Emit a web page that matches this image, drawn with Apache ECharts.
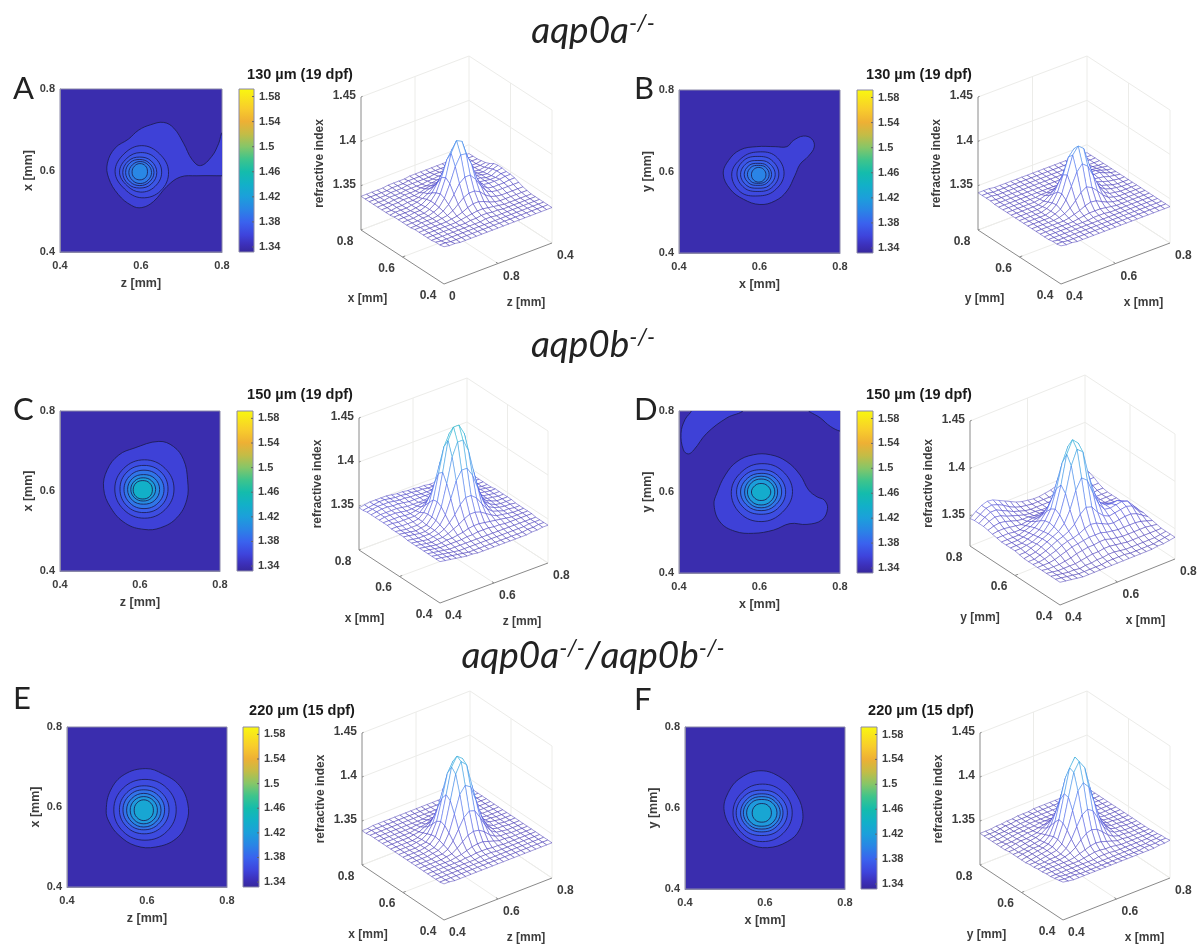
<!DOCTYPE html>
<html><head><meta charset="utf-8"><style>html,body{margin:0;background:#fff}#c{width:1201px;height:944px;filter:blur(.4px)}</style>
<script src="https://cdn.jsdelivr.net/npm/echarts@6/dist/echarts.min.js"></script></head>
<body><div id="c"></div><script>
// Surface heights: refractive index = 1.3 + value/1000. Rows y/x 0.40..0.80, columns 0.40..0.80, step 0.02 mm.
const surfaceA=[
[42,41,41,40,40,40,40,40,40,40,40,40,40,40,40,40,40,40,40,40,40],
[41,41,40,40,40,40,40,40,40,40,40,40,40,40,40,40,40,40,40,40,40],
[41,40,40,40,40,40,40,40,40,40,40,40,40,40,40,40,40,40,40,40,40],
[40,40,40,40,40,40,40,40,40,40,41,41,40,40,40,40,40,40,40,40,40],
[40,40,40,40,40,40,40,40,41,41,42,42,41,41,40,40,40,40,40,40,40],
[40,40,40,40,40,40,40,41,42,43,44,44,43,42,41,40,40,40,40,40,40],
[40,40,40,40,40,40,41,42,44,47,49,49,47,44,42,41,41,41,41,41,41],
[40,40,40,40,40,41,42,45,50,55,58,58,55,49,45,43,42,42,42,42,42],
[39,39,40,40,40,41,44,49,58,68,73,73,66,56,48,45,44,44,44,44,44],
[39,39,39,40,40,42,45,53,67,84,95,94,80,62,51,46,45,45,45,46,46],
[39,39,39,40,40,42,46,55,71,96,108,105,86,66,52,47,46,46,46,47,47],
[39,39,39,40,40,42,46,53,68,86,96,94,78,61,51,47,46,45,45,47,47],
[39,39,39,39,40,41,45,50,59,69,74,72,64,55,49,47,46,44,44,47,48],
[38,39,39,39,40,41,43,46,51,56,58,57,54,50,48,47,46,44,43,46,48],
[38,38,39,39,40,40,41,44,46,48,49,49,49,48,47,47,45,43,42,44,47],
[38,38,39,39,40,40,40,41,43,44,45,46,46,46,46,45,43,42,41,42,44],
[38,38,38,39,39,40,40,40,41,41,42,43,44,44,44,43,42,41,41,41,42],
[38,38,38,39,39,39,40,40,40,40,41,41,42,42,42,42,41,41,40,40,41],
[38,38,38,38,39,39,39,40,40,40,40,40,41,41,41,41,41,40,40,40,40],
[38,38,38,38,38,39,39,39,40,40,40,40,40,40,40,40,40,40,40,40,40],
[38,38,38,38,38,39,39,39,39,40,40,40,40,40,40,40,40,40,40,40,40]];
const surfaceB=[
[43,42,42,41,41,41,41,41,41,41,41,41,41,41,41,41,41,41,41,41,41],
[42,42,41,41,41,41,41,41,41,41,41,41,41,41,41,41,41,41,41,41,41],
[42,41,41,41,41,41,41,41,41,41,41,41,41,41,41,41,41,41,41,41,41],
[41,41,41,41,41,41,41,41,41,41,41,41,41,41,41,41,41,41,41,41,41],
[41,41,41,41,41,41,41,41,41,42,42,42,41,41,41,41,41,41,41,41,41],
[41,41,41,41,41,41,41,42,43,44,44,44,43,42,41,41,41,41,41,41,41],
[41,41,41,41,41,41,42,44,46,49,51,50,47,44,42,41,41,41,41,41,41],
[41,41,41,41,41,42,44,48,54,61,65,62,56,49,44,42,41,41,41,41,41],
[41,41,41,41,41,43,46,54,67,81,88,83,70,56,47,43,42,41,41,41,41],
[41,41,41,41,41,43,48,58,77,97,105,100,80,60,49,45,43,42,41,41,41],
[41,41,41,41,41,43,47,57,74,92,99,95,76,59,50,46,44,42,41,41,41],
[41,41,41,41,41,42,45,52,63,74,78,74,63,54,49,47,45,43,42,41,41],
[41,41,41,41,41,41,43,47,52,57,59,57,53,50,48,47,46,45,43,42,41],
[41,41,41,41,41,41,42,44,45,47,47,47,46,46,46,46,47,47,44,42,41],
[41,41,41,41,41,41,41,42,42,43,43,43,43,43,44,45,46,46,44,42,41],
[41,41,41,41,41,41,41,41,41,41,41,41,41,42,42,43,44,44,43,42,41],
[41,41,41,41,41,41,41,41,41,41,41,41,41,41,41,42,42,42,42,41,41],
[42,41,41,41,41,41,41,41,41,41,41,41,41,41,41,41,41,41,41,41,41],
[42,42,41,41,41,41,41,41,41,41,41,41,41,41,41,41,41,41,41,41,41],
[42,42,41,41,41,41,41,41,41,41,41,41,41,41,41,41,41,41,41,41,41],
[42,42,42,41,41,41,41,41,41,41,41,41,41,41,41,41,41,41,41,41,41]];
const surfaceC=[
[47,46,45,44,43,42,42,41,41,41,41,41,41,41,41,41,41,42,42,43,43],
[47,46,45,44,43,42,41,41,41,41,41,41,41,41,41,41,41,42,42,43,43],
[47,46,45,44,43,42,42,42,42,42,42,42,42,42,42,42,42,42,43,43,43],
[47,46,45,44,43,43,43,43,43,43,43,43,43,43,43,43,43,43,43,43,43],
[47,46,45,44,44,44,44,44,45,45,46,46,46,45,45,44,44,44,44,44,44],
[47,46,45,44,44,45,45,46,47,49,50,50,49,48,47,46,45,44,44,44,44],
[47,46,45,44,45,45,47,50,53,57,60,60,58,54,50,47,46,45,44,44,44],
[47,46,45,44,45,46,49,54,61,70,76,76,71,62,54,49,47,45,45,44,44],
[47,46,45,45,45,47,51,60,76,94,104,104,94,77,60,51,48,46,45,45,44],
[48,47,46,45,45,47,53,66,90,118,133,133,119,92,68,54,49,46,45,45,45],
[48,47,46,45,46,47,54,69,100,134,147,147,135,101,71,55,50,47,45,45,45],
[48,47,46,46,46,48,54,68,96,124,137,137,124,98,70,55,50,47,46,45,45],
[48,48,47,47,47,48,53,62,82,103,114,114,104,84,63,54,50,47,46,45,45],
[49,49,48,48,48,48,50,56,66,77,84,84,78,67,57,52,49,47,46,45,45],
[49,49,49,49,48,48,49,51,54,58,61,62,60,57,54,51,49,47,46,45,44],
[49,50,50,50,49,48,48,49,50,51,52,53,53,52,51,50,48,46,45,44,44],
[49,50,50,50,50,49,48,48,48,48,49,49,50,50,49,48,47,46,45,44,44],
[49,50,51,51,50,50,49,48,48,48,48,48,48,47,47,46,46,45,44,44,44],
[49,50,51,51,51,50,49,49,48,48,47,47,47,46,46,45,45,44,44,44,44],
[48,49,50,51,51,50,49,49,48,48,47,47,46,46,45,45,44,44,44,44,44],
[48,49,50,50,50,50,49,48,48,47,47,46,46,45,45,44,44,44,44,43,43]];
const surfaceD=[
[42,41,40,39,38,38,38,38,38,38,38,38,38,38,38,38,38,39,39,40,41],
[42,41,40,39,38,38,38,38,38,39,39,39,39,38,38,38,38,38,39,40,41],
[42,41,40,39,39,38,39,39,40,40,41,41,40,39,39,39,39,39,39,40,41],
[42,41,40,40,40,40,41,42,43,43,44,44,43,42,41,41,41,41,41,41,41],
[42,41,41,41,42,43,45,46,47,47,48,48,46,45,44,44,44,44,44,43,42],
[42,42,42,43,45,47,49,50,51,52,52,52,50,49,48,48,48,48,47,45,43],
[42,42,43,45,47,50,52,53,55,58,60,59,56,53,52,53,54,54,52,48,44],
[42,42,44,46,49,52,54,57,62,70,75,73,65,59,56,57,58,59,57,50,45],
[42,43,44,47,50,53,56,62,74,92,103,98,82,68,60,59,60,61,59,52,45],
[43,43,45,47,50,53,58,68,88,115,130,125,98,77,64,59,58,59,56,50,45],
[44,44,45,46,49,52,59,71,94,124,137,131,104,80,66,58,55,54,50,47,44],
[44,44,44,46,48,51,58,68,87,112,127,122,98,75,62,55,51,48,46,44,43],
[44,44,44,45,47,50,55,62,74,92,102,97,82,66,57,51,47,45,44,43,42],
[44,44,44,44,46,48,51,55,61,70,74,72,66,58,52,47,45,43,42,42,42],
[45,45,45,44,44,46,48,49,52,55,56,56,54,50,47,44,43,42,42,42,42],
[46,47,47,46,45,44,45,46,46,47,48,48,47,45,43,42,42,42,42,42,42],
[47,49,50,49,47,45,44,44,43,43,43,43,42,42,41,41,42,42,42,43,43],
[48,51,53,52,49,47,45,43,42,42,41,41,41,41,41,41,42,43,44,45,45],
[48,52,55,55,52,49,46,44,42,41,41,41,41,41,41,42,43,45,47,48,48],
[48,52,56,57,55,52,48,45,43,42,41,41,41,41,42,43,45,47,49,50,50],
[47,52,56,58,57,54,51,48,45,43,42,41,41,42,43,45,47,50,51,52,52]];
const surfaceE=[
[41,41,40,40,40,40,40,40,40,40,40,40,40,40,40,40,40,40,40,40,40],
[40,40,40,40,40,40,40,40,40,40,40,40,40,40,40,40,40,40,40,40,40],
[40,40,40,40,40,40,40,40,40,40,40,40,40,40,40,40,40,40,40,40,40],
[40,40,40,40,40,40,40,40,40,41,41,41,40,40,40,40,40,40,40,40,40],
[40,40,40,40,40,40,40,41,41,42,42,42,41,41,40,40,40,40,40,40,40],
[40,40,40,40,40,40,41,42,44,46,47,47,45,43,41,41,40,40,40,40,40],
[40,40,40,40,40,41,42,46,51,56,58,57,53,47,43,41,41,40,40,40,40],
[40,40,40,40,41,41,44,51,62,73,78,76,66,54,46,42,41,40,40,40,40],
[40,40,40,40,41,42,46,57,76,96,104,100,82,62,49,43,41,41,40,40,40],
[40,40,40,40,41,42,48,62,88,116,128,122,96,69,52,44,41,41,40,40,40],
[40,40,40,40,41,43,49,64,92,121,131,126,100,71,53,44,42,41,40,40,40],
[40,40,40,40,41,42,48,61,85,111,122,116,92,67,51,44,41,41,40,40,40],
[40,40,40,40,41,42,46,55,72,91,98,94,77,59,48,43,41,40,40,40,40],
[40,40,40,40,40,41,44,49,58,68,72,69,61,51,45,42,41,40,40,40,40],
[40,40,40,40,40,41,42,45,48,53,55,54,50,46,43,41,40,40,40,40,40],
[40,40,40,40,40,40,41,42,43,45,46,46,44,42,41,40,40,40,40,40,40],
[40,40,40,40,40,40,40,41,41,42,42,42,41,41,40,40,40,40,40,40,40],
[40,40,40,40,40,40,40,40,40,40,41,41,40,40,40,40,40,40,40,40,40],
[40,40,40,40,40,40,40,40,40,40,40,40,40,40,40,40,40,40,40,40,40],
[39,40,40,40,40,40,40,40,40,40,40,40,40,40,40,40,40,40,40,40,40],
[39,39,40,40,40,40,40,40,40,40,40,40,40,40,40,40,40,40,40,40,40]];
const surfaceF=[
[43,42,41,41,41,41,41,41,41,41,41,41,41,41,41,41,41,41,42,42,43],
[42,41,41,41,40,40,40,40,40,40,40,40,40,40,40,40,41,41,41,42,42],
[41,41,40,40,40,40,40,40,40,40,40,40,40,40,40,40,40,40,41,41,42],
[40,40,40,40,40,40,40,40,40,41,41,41,40,40,40,40,40,40,40,41,41],
[40,40,40,40,40,40,40,41,42,43,43,42,42,41,40,40,40,40,40,40,41],
[39,40,40,40,40,40,41,43,45,47,48,47,45,43,41,41,40,40,40,40,40],
[39,39,40,40,40,41,43,47,53,58,60,58,53,47,43,41,41,40,40,40,40],
[38,39,39,40,40,41,45,53,65,76,80,76,65,53,46,42,41,40,40,40,40],
[38,38,39,40,41,42,47,60,80,100,107,100,81,61,49,43,41,41,40,40,40],
[37,38,39,40,41,43,49,65,92,118,128,119,94,68,52,44,41,41,40,40,40],
[37,38,39,40,41,43,49,66,93,120,130,120,94,69,52,44,41,41,40,40,40],
[37,38,39,40,40,42,47,60,83,106,115,107,85,63,50,43,41,40,40,40,40],
[37,37,38,39,40,41,45,53,67,84,90,84,69,55,47,42,41,40,40,40,40],
[37,37,38,39,40,41,43,47,55,63,66,63,56,49,44,41,40,40,40,40,40],
[36,37,38,39,39,40,41,44,47,50,51,50,47,44,42,40,40,40,40,40,40],
[36,37,37,38,39,40,40,41,42,44,44,44,43,41,40,40,40,40,40,40,40],
[36,36,37,38,39,39,40,40,41,41,41,41,41,40,40,40,40,40,40,40,40],
[36,36,37,38,38,39,39,40,40,40,40,40,40,40,40,40,40,40,40,40,40],
[36,36,37,37,38,38,39,39,40,40,40,40,40,40,40,40,40,40,40,40,40],
[36,36,36,37,38,38,39,39,39,40,40,40,40,40,40,40,40,40,40,40,40],
[36,36,36,37,37,38,38,39,39,39,40,40,40,40,40,40,40,40,40,40,40]];

const outerA=[[[.803,.696],[.792,.667],[.775,.635],[.747,.612],[.726,.627],[.705,.667],[.681,.704],[.656,.718],[.623,.712],[.594,.699],[.569,.677],[.536,.655],[.517,.618],[.520,.582],[.544,.541],[.577,.514],[.602,.509],[.631,.524],[.664,.561],[.697,.584],[.738,.587],[.803,.587],[.83,.587],[.83,.696]]];
const outerB=[[[.510,.594],[.523,.627],[.552,.653],[.593,.661],[.639,.661],[.668,.661],[.684,.676],[.709,.687],[.730,.680],[.736,.660],[.721,.637],[.701,.618],[.688,.590],[.668,.552],[.639,.528],[.601,.519],[.560,.532],[.527,.557]]];
const outerC=[[[.509,.607],[.518,.653],[.547,.690],[.585,.707],[.647,.724],[.684,.711],[.709,.678],[.719,.628],[.717,.578],[.692,.533],[.651,.508],[.610,.504],[.564,.519],[.527,.558]]];
const outerD=[[[.432,.803],[.415,.779],[.405,.745],[.411,.704],[.423,.694],[.437,.704],[.469,.745],[.519,.783],[.562,.803],[.562,.83],[.432,.83]],
[[.722,.803],[.751,.783],[.776,.762],[.801,.750],[.817,.750],[.817,.807]],
[[.487,.568],[.494,.597],[.515,.642],[.544,.675],[.585,.692],[.627,.692],[.668,.675],[.701,.642],[.722,.605],[.743,.588],[.761,.580],[.769,.559],[.755,.531],[.718,.520],[.676,.522],[.635,.506],[.585,.498],[.539,.503],[.502,.526]]];
const outerE=[[[.498,.592],[.509,.642],[.543,.681],[.597,.696],[.639,.683],[.681,.654],[.702,.608],[.699,.562],[.673,.521],[.622,.500],[.572,.503],[.530,.529],[.505,.563]]];
const outerF=[[[.498,.592],[.508,.638],[.540,.675],[.590,.692],[.640,.675],[.673,.642],[.694,.592],[.686,.546],[.656,.517],[.606,.502],[.560,.512],[.523,.542]]];

// Inner rings: [centre h, centre v, radius E, NE, N, NW, W, SW, S, SE] in mm
const ringsA=[[.602,.597,.066,.062,.064,.062,.066,.060,.064,.066],[.599,.596,.052,.050,.048,.048,.052,.047,.049,.050],[.597,.595,.042,.040,.038,.040,.042,.040,.038,.040],[.597,.595,.035,.033,.032,.034,.035,.033,.032,.033],[.598,.595,.028,.027,.027,.027,.028,.027,.027,.027],[.597,.597,.019,.020,.020,.019,.019,.020,.020,.020]];
const ringsB=[[.596,.594,.065,.062,.054,.056,.065,.062,.054,.058],[.596,.594,.052,.048,.043,.048,.052,.048,.043,.048],[.596,.593,.043,.039,.034,.039,.043,.039,.034,.039],[.596,.593,.034,.031,.027,.031,.034,.031,.027,.031],[.597,.593,.027,.025,.022,.025,.027,.025,.022,.025],[.598,.592,.018,.018,.018,.018,.018,.018,.018,.018]];
const ringsC=[[.611,.605,.074,.073,.073,.073,.074,.073,.073,.073],[.610,.605,.060,.060,.059,.060,.060,.060,.059,.060],[.610,.604,.050,.049,.048,.049,.050,.049,.048,.049],[.609,.604,.040,.039,.037,.039,.040,.039,.037,.039],[.608,.604,.031,.030,.029,.030,.031,.030,.029,.030],[.607,.603,.024,.024,.023,.024,.024,.024,.023,.024]];
const ringsD=[[.606,.601,.076,.072,.069,.070,.076,.076,.074,.072],[.604,.600,.061,.058,.055,.058,.061,.058,.055,.058],[.604,.600,.051,.049,.046,.048,.051,.048,.046,.048],[.604,.600,.041,.040,.039,.040,.041,.040,.039,.040],[.604,.600,.034,.033,.032,.033,.034,.033,.032,.033],[.604,.600,.024,.022,.021,.022,.024,.022,.021,.022]];
const ringsE=[[.595,.593,.078,.077,.076,.077,.078,.077,.076,.077],[.593,.593,.062,.061,.060,.061,.062,.061,.060,.061],[.592,.593,.052,.051,.050,.051,.052,.051,.050,.051],[.592,.592,.043,.042,.042,.042,.043,.042,.042,.042],[.592,.592,.034,.034,.034,.034,.034,.034,.034,.034],[.592,.592,.024,.025,.026,.025,.024,.025,.026,.025]];
const ringsF=[[.594,.588,.074,.072,.071,.072,.074,.072,.071,.072],[.592,.588,.064,.060,.056,.060,.064,.060,.056,.060],[.592,.588,.053,.050,.047,.050,.053,.050,.047,.050],[.592,.588,.046,.043,.040,.043,.046,.043,.040,.043],[.592,.588,.038,.036,.033,.036,.038,.036,.033,.036],[.592,.588,.024,.024,.023,.024,.024,.024,.023,.024]];

// Fill value of each filled contour band, outermost first
const bandsA=[1.358,1.364,1.372,1.38,1.387,1.394,1.402];
const bandsB=[1.358,1.364,1.372,1.38,1.387,1.394,1.400];
const bandsC=[1.358,1.366,1.378,1.392,1.406,1.422,1.44];
const bandsD=[1.358,1.366,1.378,1.392,1.406,1.420,1.435];
const bandsE=[1.358,1.365,1.376,1.39,1.403,1.416,1.428];
const bandsF=[1.358,1.365,1.376,1.39,1.403,1.416,1.428];

const colorValues=[1.332,1.345,1.36,1.38,1.40,1.42,1.44,1.46,1.48,1.50,1.52,1.54,1.56,1.592];
const colorHex=['#36279b','#3c30ba','#3e44dc','#3a62ee','#2a84e6','#1c9fdb','#12b0c8','#14bcac','#3ec48c','#86c668','#c4bc46','#eeb034','#f8cc2c','#f9f80f'];
const colorbarTicks=[1.34,1.38,1.42,1.46,1.5,1.54,1.58];
const mapTicks=[0.4,0.6,0.8];
const indexTicks=[1.3,1.35,1.4,1.45];
const indexTickLabels=['1.3','1.35','1.4','1.45'];
const meshTickLabels=['0.4','0.6','0.8'];
const meshTickLabelsA=['0','0.8','0.4'];
const headings=['aqp0a','aqp0b','aqp0a|aqp0b'];
const sizeLabels=['130 µm (19 dpf)','150 µm (19 dpf)','220 µm (15 dpf)'];

const sans='"Liberation Sans",Arial,sans-serif';
const inkC='#3d3d3d';
const panels=[
 {letter:'A',lx:13,ly:73,title:0,tx:300,ty:67,map:[60,89,162,163],bar:[239,89,15,163],h:'z [mm]',v:'x [mm]',outer:outerA,rings:ringsA,bands:bandsA,surf:surfaceA,L:[361,230],F:[444,284],R:[552,243],top:97,zMin:1.3,ticks:meshTickLabelsA},
 {letter:'B',lx:634,ly:73,title:0,tx:919,ty:67,map:[679,90,161,163],bar:[857,90,16,163],h:'x [mm]',v:'y [mm]',outer:outerB,rings:ringsB,bands:bandsB,surf:surfaceB,L:[978,230],F:[1061,284],R:[1170,243],top:97,zMin:1.3,ticks:meshTickLabels},
 {letter:'C',lx:13,ly:394,title:1,tx:300,ty:387,map:[60,411,160,160],bar:[237,411,16,160],h:'z [mm]',v:'x [mm]',outer:outerC,rings:ringsC,bands:bandsC,surf:surfaceC,L:[359,550],F:[440,603],R:[548,563],top:418,zMin:1.3,ticks:meshTickLabels},
 {letter:'D',lx:634,ly:394,title:1,tx:919,ty:387,map:[679,411,161,162],bar:[857,411,16,162],h:'x [mm]',v:'y [mm]',outer:outerD,rings:ringsD,bands:bandsD,surf:surfaceD,L:[970,546],F:[1060,605],R:[1175,559],top:421,zMin:1.318,ticks:meshTickLabels},
 {letter:'E',lx:13,ly:683,title:2,tx:302,ty:703,map:[67,727,160,160],bar:[243,727,16,160],h:'z [mm]',v:'x [mm]',outer:outerE,rings:ringsE,bands:bandsE,surf:surfaceE,L:[362,865],F:[444,920],R:[552,878],top:733,zMin:1.3,ticks:meshTickLabels},
 {letter:'F',lx:634,ly:684,title:2,tx:921,ty:703,map:[685,727,160,162],bar:[861,727,16,162],h:'x [mm]',v:'y [mm]',outer:outerF,rings:ringsF,bands:bandsF,surf:surfaceF,L:[980,865],F:[1063,920],R:[1170,878],top:733,zMin:1.3,ticks:meshTickLabels}
];

function hexRgb(h){return [1,3,5].map(i=>parseInt(h.substr(i,2),16));}
function colormap(v){
  if(v<=colorValues[0])return colorHex[0];
  for(let i=1;i<colorValues.length;i++){
    if(v<=colorValues[i]){
      const t=(v-colorValues[i-1])/(colorValues[i]-colorValues[i-1]),a=hexRgb(colorHex[i-1]),b=hexRgb(colorHex[i]);
      return 'rgb('+a.map((c,k)=>Math.round(c+(b[k]-c)*t)).join(',')+')';
    }
  }
  return colorHex[colorHex.length-1];
}
const ringDirs=[0,1,2,3,4,5,6,7].map(k=>k*Math.PI/4);
function ringToPoints(r){return ringDirs.map((a,k)=>[r[0]+r[2+k]*Math.cos(a),r[1]+r[2+k]*Math.sin(a)]);}

const rich={m:{fontFamily:'Lato',fontStyle:'italic',fontWeight:'normal',fontSize:37,color:'#222',lineHeight:42},
 s:{fontFamily:'Lato',fontStyle:'italic',fontWeight:'normal',fontSize:23,color:'#222',lineHeight:42,padding:[0,0,15,0]}};
function heading(s){return s.split('|').map(p=>'{m|'+p+'}{s|-/-}').join('{m|/}');}
const option={animation:false,backgroundColor:'#fff',title:[],grid:[],xAxis:[],yAxis:[],series:[]};
[[593,10,0],[593,324,1],[593,635,2]].forEach(([x,y,i])=>option.title.push({text:heading(headings[i]),left:x,top:y,textAlign:'center',padding:0,textStyle:{fontWeight:'normal',rich}}));

function addGrid(rect,x,y,extra){
  const idx=option.grid.length;
  option.grid.push(Object.assign({left:rect[0],top:rect[1],width:rect[2],height:rect[3]},extra||{}));
  option.xAxis.push(Object.assign({type:'value',gridIndex:idx},x));
  option.yAxis.push(Object.assign({type:'value',gridIndex:idx},y));
  return idx;
}
const frame={show:true,lineStyle:{color:'#8a88a8',width:1}};
const tickFont={fontFamily:sans,fontWeight:'bold',fontSize:11,color:inkC};
const nameFont={fontFamily:sans,fontWeight:'bold',fontSize:12.5,color:inkC};

panels.forEach(p=>{
  option.title.push({text:p.letter,left:p.lx,top:p.ly,padding:0,textStyle:{fontFamily:'Lato',fontWeight:'normal',fontSize:31,color:'#222'}});
  option.title.push({text:sizeLabels[p.title],left:p.tx,top:p.ty,padding:0,textAlign:'center',textStyle:{fontFamily:sans,fontWeight:'bold',fontSize:14.5,color:'#1a1a1a'}});

  // contour map
  const axis={min:.4,max:.8,interval:.2,splitLine:{show:false},axisTick:{show:false},axisLine:frame,nameLocation:'middle',nameTextStyle:nameFont};
  const lab=m=>Object.assign({formatter:v=>mapTicks.find(t=>Math.abs(t-v)<1e-6).toFixed(1),margin:m},tickFont);
  const gm=addGrid(p.map,Object.assign({},axis,{name:p.h,nameGap:25,axisLabel:lab(8)}),Object.assign({},axis,{name:p.v,nameGap:25,axisLabel:lab(5)}),{show:true,backgroundColor:colormap(1.34),borderColor:'#8a88a8',borderWidth:1});
  const contours=[];
  p.outer.forEach(o=>contours.push({pts:o,v:p.bands[0]}));
  p.rings.forEach((r,i)=>contours.push({pts:ringToPoints(r),v:p.bands[i+1]}));
  option.series.push({type:'custom',coordinateSystem:'cartesian2d',xAxisIndex:gm,yAxisIndex:gm,clip:true,silent:true,progressive:0,
    data:contours.map((c,i)=>[i]),
    renderItem:(params,api)=>{const c=contours[params.dataIndex];
      return {type:'polygon',shape:{points:c.pts.map(q=>api.coord(q)),smooth:.4},style:{fill:colormap(c.v),stroke:'#1c1c50',lineWidth:.85}};}});

  // colour bar
  const vMin=colorValues[0],vMax=colorValues[colorValues.length-1];
  const cb=addGrid(p.bar,{min:0,max:1,show:false},{min:vMin,max:vMax,position:'right',
      splitLine:{show:false},axisLine:{show:false},axisTick:{show:false},
      axisLabel:Object.assign({customValues:colorbarTicks,formatter:v=>String(+(+v).toFixed(2)),margin:5},tickFont)},{});
  option.series.push({type:'custom',coordinateSystem:'cartesian2d',xAxisIndex:cb,yAxisIndex:cb,silent:true,
    data:[[0,vMin,1,vMax]],
    renderItem:(params,api)=>{const a=api.coord([0,vMax]),b=api.coord([1,vMin]);
      const kids=[{type:'rect',shape:{x:a[0],y:a[1],width:b[0]-a[0],height:b[1]-a[1]},
        style:{stroke:'#8a88a8',lineWidth:1,fill:new echarts.graphic.LinearGradient(0,1,0,0,colorValues.map((v,i)=>({offset:(v-vMin)/(vMax-vMin),color:colorHex[i]})))}}];
      colorbarTicks.forEach(t=>{const q=api.coord([1,t]);kids.push({type:'line',shape:{x1:q[0]-2,y1:q[1],x2:q[0],y2:q[1]},style:{stroke:'#666',lineWidth:1}});});
      return {type:'group',children:kids};}});

  // 3-D mesh, projected into a hidden cartesian grid
  const H=p.L[1]-p.top,scale=H/(1.45-p.zMin);
  const backY=p.L[1]+p.R[1]-p.F[1];
  const oy=backY-H,ox=p.L[0],W=p.R[0]-p.L[0],Ht=p.F[1]-oy;
  const proj=(r,c,z)=>[p.F[0]+r*(p.L[0]-p.F[0])+c*(p.R[0]-p.F[0])-ox,p.F[1]+r*(p.L[1]-p.F[1])+c*(p.R[1]-p.F[1])-(z-p.zMin)*scale-oy];
  const g3=addGrid([ox,oy,W,Ht],{min:0,max:W,show:false},{min:0,max:Ht,inverse:true,show:false},{});
  const common={type:'custom',coordinateSystem:'cartesian2d',xAxisIndex:g3,yAxisIndex:g3,silent:true,progressive:0};
  const z0=p.zMin,z1=1.45,zs=indexTicks.filter(t=>t>=z0);
  const faint=[],dark=[];
  zs.concat([z0]).forEach(t=>{faint.push([[1,0,t],[1,1,t]]);faint.push([[1,1,t],[0,1,t]]);});
  [[1,.5],[1,1],[.5,1],[0,1]].forEach(q=>faint.push([[q[0],q[1],z0],[q[0],q[1],z1]]));
  faint.push([[.5,0,z0],[.5,1,z0]]);faint.push([[0,.5,z0],[1,.5,z0]]);
  dark.push([[1,0,z0],[1,0,z1]]);dark.push([[1,0,z0],[0,0,z0]]);dark.push([[0,0,z0],[0,1,z0]]);
  dark.push([[.5,0,z0],[.5,.025,z0]]);dark.push([[0,.5,z0],[.025,.5,z0]]);
  zs.forEach(t=>dark.push([[1,0,t],[1,.015,t]]));
  option.series.push(Object.assign({},common,{z:2,data:faint.map((s,i)=>[i]),renderItem:(pr,api)=>{const s=faint[pr.dataIndex],a=api.coord(proj(...s[0])),b=api.coord(proj(...s[1]));
    return {type:'line',shape:{x1:a[0],y1:a[1],x2:b[0],y2:b[1]},style:{stroke:'#ecece9',lineWidth:1}};}}));
  const quads=[];
  const N=p.surf.length;
  for(let j=N-2;j>=0;j--)for(let i=N-2;i>=0;i--)quads.push([i,j]);
  const val=(i,j)=>1.3+p.surf[j][i]/1000;
  option.series.push(Object.assign({},common,{z:3,data:quads.map(q=>[q[0],q[1]]),renderItem:(pr,api)=>{
    const [i,j]=quads[pr.dataIndex],d=N-1;
    const c=[[i,j],[i+1,j],[i+1,j+1],[i,j+1]];
    const avg=c.reduce((s,q)=>s+val(q[0],q[1]),0)/4;
    return {type:'polygon',shape:{points:c.map(q=>api.coord(proj(q[1]/d,q[0]/d,val(q[0],q[1]))))},style:{fill:'#fff',stroke:colormap(avg),strokeOpacity:.8,lineWidth:.6}};}}));
  option.series.push(Object.assign({},common,{z:4,data:dark.map((s,i)=>[i]),renderItem:(pr,api)=>{const s=dark[pr.dataIndex],a=api.coord(proj(...s[0])),b=api.coord(proj(...s[1]));
    return {type:'line',shape:{x1:a[0],y1:a[1],x2:b[0],y2:b[1]},style:{stroke:'#8a8a8a',lineWidth:1}};}}));
  const labels=[];
  const font='bold 12px '+sans;
  indexTicks.forEach((t,i)=>{if(t>=z0+.01){const q=proj(1,0,t);labels.push({t:indexTickLabels[i],x:q[0]-5,y:q[1]-1,align:'right'});}});
  meshTickLabels.forEach((l,i)=>{const q=proj(1-i/2,0,z0);labels.push({t:['0.8','0.6','0.4'][i],x:q[0]-16,y:q[1]+11.5,align:'center'});});
  p.ticks.forEach((l,i)=>{const q=proj(0,i/2,z0);labels.push({t:l,x:q[0]+5,y:q[1]+13,align:'left'});});
  let q=proj(.5,0,z0);labels.push({t:p.v,x:q[0]-35,y:q[1]+42,align:'center'});
  q=proj(0,.5,z0);labels.push({t:p.h,x:q[0]+28,y:q[1]+39,align:'center'});
  q=proj(1,0,(z0+z1)/2);labels.push({t:'refractive index',x:q[0]-41,y:q[1],align:'center',rot:Math.PI/2});
  option.series.push(Object.assign({},common,{z:5,data:labels.map((l,i)=>[i]),renderItem:(pr,api)=>{const l=labels[pr.dataIndex],a=api.coord([l.x,l.y]);
    return {type:'text',x:a[0],y:a[1],rotation:l.rot||0,style:{text:l.t,fill:inkC,font,textAlign:l.align,textVerticalAlign:'middle',verticalAlign:'middle'}};}}));
});
echarts.init(document.getElementById('c')).setOption(option);
</script></body></html>
